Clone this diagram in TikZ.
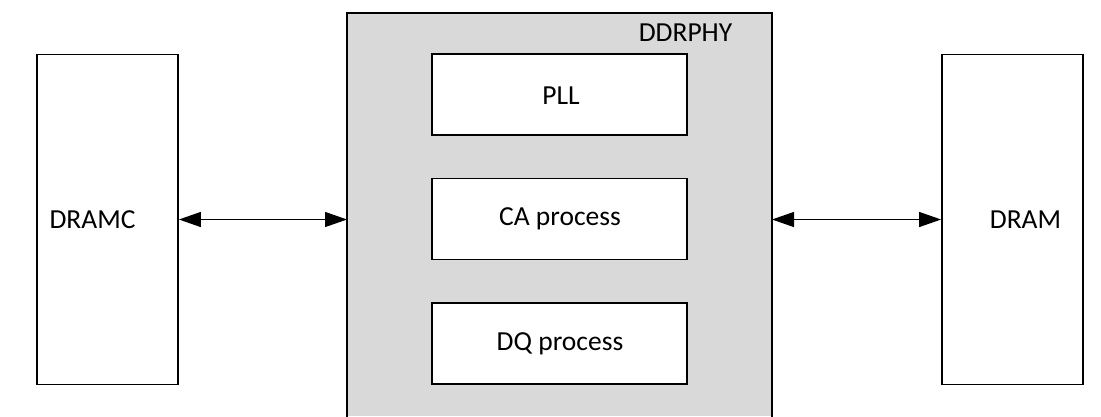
\documentclass[tikz,border=0pt]{standalone}
\usepackage{fontspec}
\setmainfont{Carlito}
\usetikzlibrary{arrows.meta}

\begin{document}
\begin{tikzpicture}[x=1pt, y=-1pt,
  blockbox/.style={draw=black, line width=1.8pt, fill=white, inner sep=0pt},
  innerbox/.style={draw=black, line width=1.6pt, fill=white, inner sep=0pt,
    minimum width=255pt, minimum height=81pt},
  lbl/.style={inner sep=0pt, font=\fontsize{27.5}{33}\selectfont},
  biarrow/.style={line width=1.3pt,
    {Triangle[length=22pt, width=15pt]}-{Triangle[length=22pt, width=15pt]}},
]
\useasboundingbox (0,0) rectangle (1101,416);

% PHY block, running off the bottom edge
\fill[gray!30] (347,13) rectangle (772,416);
\draw[line width=1.8pt] (347,417) -- (347,13) -- (772,13) -- (772,417);
\coordinate (phyw) at (347,220);
\coordinate (phye) at (772,220);
\node[lbl] (phylbl) at (685.5,33) {DDRPHY};

% blocks inside the PHY
\node[innerbox] (pll) at (559.5,94.5) {};
\node[lbl] (plllbl) at (561,96) {PLL};
\node[innerbox] (ca) at (559.5,219) {};
\node[lbl] (calbl) at (560,219) {CA process};
\node[innerbox] (dq) at (559.5,343.5) {};
\node[lbl] (dqlbl) at (560,343.5) {DQ process};

% controller and memory
\node[blockbox, minimum width=141pt, minimum height=330pt] (dramc) at (107.5,219.5) {};
\node[lbl] (dramclbl) at (92.5,220) {DRAMC};
\node[blockbox, minimum width=141pt, minimum height=330pt] (dram) at (1012.5,219.5) {};
\node[lbl] (dramlbl) at (1025.5,220) {DRAM};

% links
\draw[biarrow] (dramc.east) -- (dramc.east -| phyw);
\draw[biarrow] (dram.west -| phye) -- (dram.west);
\end{tikzpicture}
\end{document}
